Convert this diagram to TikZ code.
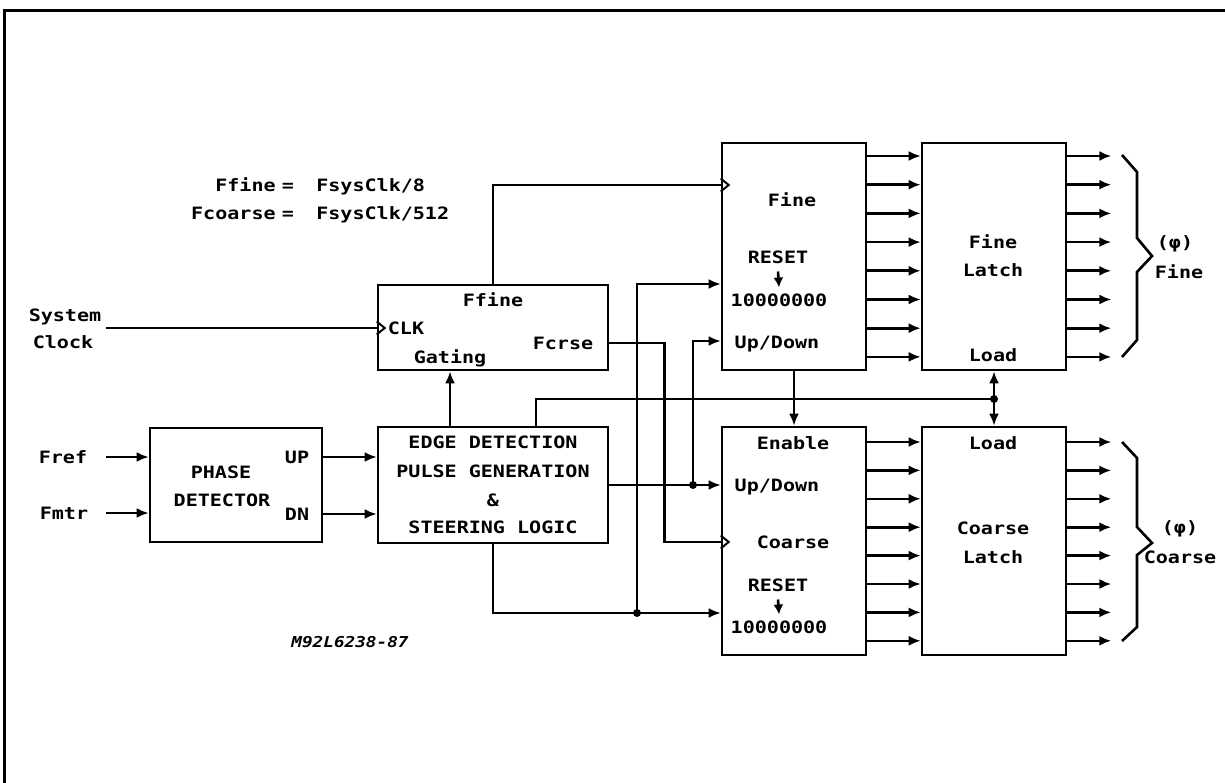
\documentclass[tikz,border=0pt]{standalone}
\usepackage{fontspec}
\newfontfamily\plotfont[FakeStretch=1.18]{DejaVu Sans Mono}
\usetikzlibrary{arrows.meta}
\newcommand\clkmark[1]{\draw[line width=2pt,line join=miter] ([yshift=6.5pt]#1) -- ([xshift=8pt]#1) -- ([yshift=-6.5pt]#1);}
\begin{document}
\begin{tikzpicture}[x=1pt,y=-1pt,line width=2.6pt]
\tikzset{
 lbl/.style={font=\plotfont\bfseries\fontsize{17}{17}\selectfont, inner sep=0pt, text height=12.4pt, text depth=0pt},
 tag/.style={font=\plotfont\bfseries\itshape\fontsize{15}{15}\selectfont, inner sep=0pt},
 blk/.style={draw, line width=2.6pt, inner sep=0pt},
 arr/.style={-{Latex[length=12pt,width=10pt]}},
 brace/.style={line width=2.6pt, line join=miter}
}
\useasboundingbox (0,0) rectangle (1225,783);
% frame
\draw[line width=3pt] (4,783) -- (4,11) -- (1225,11);

% blocks
\node[blk, minimum width=172pt, minimum height=114pt] (pd) at (236,485) {};
\node[blk, minimum width=230pt, minimum height=116pt] (ed) at (493,485) {};
\node[blk, minimum width=230pt, minimum height=85pt] (gt) at (493,327.5) {};
\node[blk, minimum width=144pt, minimum height=227pt] (fc) at (794,256.5) {};
\node[blk, minimum width=144pt, minimum height=228pt] (cc) at (794,541) {};
\node[blk, minimum width=144pt, minimum height=227pt] (fl) at (994,256.5) {};
\node[blk, minimum width=144pt, minimum height=228pt] (cl) at (994,541) {};

% formula text
\node[lbl, anchor=east] (f1a) at (277,185) {Ffine};
\node[lbl] (f1b) at (288,185) {=};
\node[lbl, anchor=west] (f1c) at (315,185) {FsysClk/8};
\node[lbl, anchor=east] (f2a) at (277,213) {Fcoarse};
\node[lbl] (f2b) at (288,213) {=};
\node[lbl, anchor=west] (f2c) at (315,213) {FsysClk/512};

% left labels
\node[lbl] (sys) at (65,315) {System};
\node[lbl] (clk) at (63,342) {Clock};
\node[lbl] (fref) at (63,457) {Fref};
\node[lbl] (fmtr) at (64,513) {Fmtr};

% phase detector text
\node[lbl] (pd1) at (221,472) {PHASE};
\node[lbl] (pd2) at (222,500) {DETECTOR};
\node[lbl] (pdu) at (297,457) {UP};
\node[lbl] (pdd) at (297,514) {DN};

% edge detection text
\node[lbl] (ed1) at (493,442) {EDGE DETECTION};
\node[lbl] (ed2) at (493,471) {PULSE GENERATION};
\node[lbl] (ed3) at (493,500) {\&};
\node[lbl] (ed4) at (493,527) {STEERING LOGIC};

% gating text
\node[lbl] (gt1) at (493,300) {Ffine};
\node[lbl] (gt2) at (406,328) {CLK};
\node[lbl] (gt3) at (450,357) {Gating};
\node[lbl] (gt4) at (563,343) {Fcrse};

% fine counter text
\node[lbl] (fc1) at (792,200) {Fine};
\node[lbl] (fc2) at (778,257) {RESET};
\node[lbl] (fc3) at (779,300) {10000000};
\node[lbl] (fc4) at (777,342) {Up/Down};
\draw[-{Latex[length=10pt,width=10pt]}] ([yshift=-7pt]fc2.south) -- ([yshift=5pt]fc3.north);

% coarse counter text
\node[lbl] (cc1) at (793,443) {Enable};
\node[lbl] (cc2) at (777,485) {Up/Down};
\node[lbl] (cc3) at (793,542) {Coarse};
\node[lbl] (cc4) at (778,585) {RESET};
\node[lbl] (cc5) at (779,627) {10000000};
\draw[-{Latex[length=10pt,width=10pt]}] ([yshift=-7pt]cc4.south) -- ([yshift=5pt]cc5.north);

% latch text
\node[lbl] (fl1) at (993,242) {Fine};
\node[lbl] (fl2) at (993,270) {Latch};
\node[lbl] (fl3) at (993,355) {Load};
\node[lbl] (cl1) at (993,443) {Load};
\node[lbl] (cl2) at (993,528) {Coarse};
\node[lbl] (cl3) at (993,557) {Latch};

% brace labels
\node[lbl] (ph1) at (1175,242) {(φ)};
\node[lbl] (ph1b) at (1179,272) {Fine};
\node[lbl] (ph2) at (1180,527) {(φ)};
\node[lbl] (ph2b) at (1180,557) {Coarse};

% drawing number
\node[tag] (dwg) at (350,642) {M92L6238-87};

% inputs
\coordinate (frefo) at (106,457);
\coordinate (fmtro) at (106,513);
\draw[arr] (frefo) -- (frefo -| pd.west);
\draw[arr] (fmtro) -- (fmtro -| pd.west);
\draw[arr] ([yshift=28pt]pd.east) -- ([yshift=28pt]ed.west);
\draw[arr] ([yshift=-29pt]pd.east) -- ([yshift=-29pt]ed.west);

% system clock
\coordinate (sclk) at (106,328);
\coordinate (gtck) at ([yshift=-0.5pt]gt.west);
\draw (sclk) -- (gtck);
\clkmark{gtck}

% edge detection -> gating
\draw[arr] ([xshift=-43pt]ed.north) -- ([xshift=-43pt]gt.south);

% Ffine -> fine counter clock
\coordinate (fcck) at ([yshift=71.5pt]fc.west);
\draw (gt.north) |- (fcck);
\clkmark{fcck}

% Fcrse -> coarse counter clock
\coordinate (ccck) at ([yshift=-1pt]cc.west);
\draw ([yshift=-15.5pt]gt.east) -- ++(55,0) |- (ccck);
\clkmark{ccck}

% reset lines
\coordinate (rj) at (637,613);
\draw[arr] (ed.south) |- ([yshift=-72pt]cc.west);
\draw[arr] (rj) |- ([yshift=-27.5pt]fc.west);
\fill (rj) circle[radius=4pt];

% up/down lines
\coordinate (uj) at (693,485);
\draw[arr] (ed.east) -- (ed.east -| cc.west);
\draw[arr] (uj) |- ([yshift=-84.5pt]fc.west);
\fill (uj) circle[radius=4pt];

% enable
\draw[arr] (fc.south) -- (cc.north);

% load
\coordinate (lj) at (994,399);
\draw ([xshift=43pt]ed.north) |- (lj);
\draw[arr] (lj) -- (fl.south);
\draw[arr] (lj) -- (cl.north);
\fill (lj) circle[radius=4pt];

% counter -> latch buses, latch outputs
\foreach \i in {0,...,7} {
  \pgfmathsetmacro\yy{256.5-(156+28.7*\i)}
  \draw[arr] ([yshift=\yy pt]fc.east) -- ([yshift=\yy pt]fl.west);
  \draw[arr] ([yshift=\yy pt]fl.east) -- ++(44,0);
  \pgfmathsetmacro\yc{541-(442+28.4*\i)}
  \draw[arr] ([yshift=\yc pt]cc.east) -- ([yshift=\yc pt]cl.west);
  \draw[arr] ([yshift=\yc pt]cl.east) -- ++(44,0);
}

% braces
\draw[brace] (1122,155) -- (1137,172) -- (1137,238) -- (1152,256) -- (1137,272) -- (1137,340) -- (1122,357);
\draw[brace] (1122,442) -- (1137,458) -- (1137,527) -- (1152,543) -- (1137,555) -- (1137,627) -- (1122,641);
\end{tikzpicture}
\end{document}
